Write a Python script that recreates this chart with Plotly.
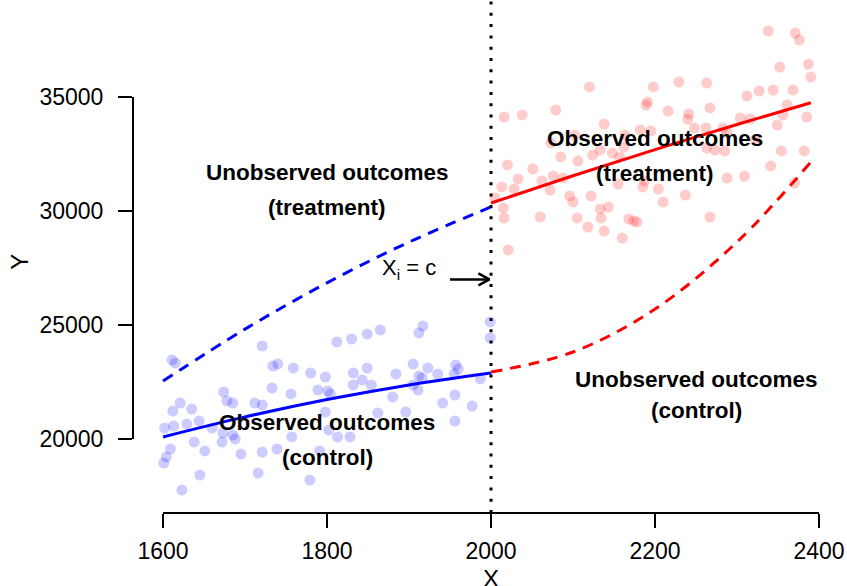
import plotly.graph_objects as go

# ---------------- data ----------------
control_x = [1611, 1615, 1721, 1674, 1621, 1612, 1635, 1678, 1685, 1712, 1721, 1602, 1613,
             1629, 1644, 1660, 1673, 1685, 1688, 1638, 1672, 1651, 1609, 1604, 1601, 1695,
             1721, 1645, 1716, 1623, 1734, 1740, 1733, 1759, 1780, 1798, 1789, 1801, 1804,
             1756, 1798, 1813, 1757, 1739, 1791, 1779, 1812, 1830, 1849, 1865, 1832, 1843,
             1849, 1854, 1832, 1862, 1828, 1912, 1917, 1999, 1999, 1905, 1884, 1912, 1916,
             1923, 1935, 1957, 1960, 1955, 1905, 1911, 1880, 1987, 1956, 1941, 1977, 1896,
             1956, 1802]
control_y = [23465, 23333, 24079, 22061, 21579, 21228, 21316, 21667, 21579, 21579, 21491, 20482,
             20570, 20658, 20789, 20482, 20263, 20175, 20000, 19868, 19868, 19474, 19561, 19211,
             18947, 19342, 19430, 18421, 18509, 17763, 23202, 23290, 22237, 23114, 22895, 22719,
             22149, 22105, 21974, 21974, 21184, 20088, 20088, 19561, 19474, 18202, 24254, 24386,
             24605, 24781, 22895, 22588, 23114, 22368, 22368, 21140, 20088, 24649, 24956, 25132,
             24430, 23289, 22851, 22763, 22675, 23114, 22851, 23246, 23070, 22851, 22368, 22149,
             21842, 22632, 21930, 21579, 21447, 21184, 20789, 20395]

treat_x = [2120, 2016, 2038, 2079, 2138, 2073, 2085, 2106, 2124, 2020, 2051, 2033, 2013, 2028,
           2062, 2076, 2088, 2072, 2005, 2015, 2016, 2060, 2096, 2100, 2122, 2105, 2118, 2133,
           2021, 2138, 2134, 2198, 2191, 2189, 2216, 2182, 2195, 2163, 2102, 2133, 2148, 2162,
           2157, 2185, 2187, 2204, 2210, 2143, 2168, 2174, 2178, 2160, 2155, 2229, 2263, 2241,
           2240, 2267, 2248, 2262, 2237, 2267, 2338, 2371, 2376, 2352, 2387, 2390, 2312, 2327,
           2344, 2368, 2361, 2356, 2385, 2304, 2316, 2349, 2283, 2288, 2273, 2285, 2263, 2322,
           2354, 2382, 2341, 2288, 2309, 2370]
treat_y = [35439, 34123, 34211, 34430, 33816, 32983, 32369, 32193, 32456, 32018, 31842, 31404,
           31053, 30965, 31316, 31535, 31447, 30921, 30570, 30132, 29693, 29737, 30658, 30395,
           30658, 29693, 29298, 30088, 28290, 29123, 29693, 35439, 34781, 34649, 34386, 33553,
           33509, 33333, 33333, 32675, 32544, 32807, 32369, 31053, 31316, 30965, 30395, 30175,
           29649, 29561, 29518, 28816, 31184, 35658, 35614, 34255, 34035, 34518, 33640, 33640,
           30702, 29737, 37895, 37807, 37500, 36316, 36447, 35877, 35044, 35263, 35307, 35307,
           34649, 34211, 34123, 34079, 34035, 33772, 33640, 33465, 32675, 32632, 32763, 33114,
           32632, 32632, 31974, 31447, 31535, 31228]

fit_ctrl_x = [1600, 1700, 1800, 1900, 2000]
fit_ctrl_obs_y = [20090, 20970, 21730, 22372, 22895]
fit_ctrl_cf_y = [22544, 24819, 26850, 28636, 30178]

fit_treat_x = [2000, 2100, 2200, 2300, 2390]
fit_treat_obs_y = [30350, 31545, 32694, 33795, 34746]
fit_treat_cf_y = [22939, 23816, 25702, 28640, 32149]

cutoff = 2000
arrow_tail_x = 1950
arrow_tip_x = 1998
arrow_y = 27000

x_ticks = [1600, 1800, 2000, 2200, 2400]
y_ticks = [20000, 25000, 30000, 35000]

# ---------------- layout constants ----------------
W, H = 847, 586
ML, MR, MT, MB = 133, 0, 0, 73
X_RANGE = [1563.4, 2434.1]
Y_RANGE = [16754, 39254]
FONT = "Liberation Sans, Arial, Helvetica, sans-serif"

px_per_x = (W - ML - MR) / (X_RANGE[1] - X_RANGE[0])
px_per_y = (H - MT - MB) / (Y_RANGE[1] - Y_RANGE[0])

fig = go.Figure()

fig.add_trace(go.Scatter(x=control_x, y=control_y, mode="markers",
                         marker=dict(size=11, color="rgba(0,0,255,0.2)", line=dict(width=0)),
                         showlegend=False, hoverinfo="skip"))
fig.add_trace(go.Scatter(x=treat_x, y=treat_y, mode="markers",
                         marker=dict(size=11, color="rgba(255,0,0,0.2)", line=dict(width=0)),
                         showlegend=False, hoverinfo="skip"))

fig.add_trace(go.Scatter(x=fit_ctrl_x, y=fit_ctrl_obs_y, mode="lines", line_shape="spline",
                         line=dict(color="#0000ff", width=3), showlegend=False, hoverinfo="skip"))
fig.add_trace(go.Scatter(x=fit_ctrl_x, y=fit_ctrl_cf_y, mode="lines", line_shape="spline",
                         line=dict(color="#0000ff", width=3, dash="11px,8px"),
                         showlegend=False, hoverinfo="skip"))
fig.add_trace(go.Scatter(x=fit_treat_x, y=fit_treat_obs_y, mode="lines", line_shape="spline",
                         line=dict(color="#ff0000", width=3), showlegend=False, hoverinfo="skip"))
fig.add_trace(go.Scatter(x=fit_treat_x, y=fit_treat_cf_y, mode="lines", line_shape="spline",
                         line=dict(color="#ff0000", width=3, dash="11px,8px"),
                         showlegend=False, hoverinfo="skip"))

# arrow (shaft + open head), derived from the arrow values
head_dx = 11 / px_per_x
head_dy = 6 / px_per_y
fig.add_trace(go.Scatter(
    x=[arrow_tail_x, arrow_tip_x, None, arrow_tip_x - head_dx, arrow_tip_x, arrow_tip_x - head_dx],
    y=[arrow_y, arrow_y, None, arrow_y + head_dy, arrow_y, arrow_y - head_dy],
    mode="lines", line=dict(color="black", width=2.5), showlegend=False, hoverinfo="skip"))

shapes = []
# cutoff dotted line
shapes.append(dict(type="line", xref="x", yref="paper", x0=cutoff, x1=cutoff, y0=0, y1=1,
                   line=dict(color="black", width=3, dash="3px,8.3px")))
# R-style partial axis lines
def xpaper(v):
    return (v - X_RANGE[0]) / (X_RANGE[1] - X_RANGE[0])
def ypaper(v):
    return (v - Y_RANGE[0]) / (Y_RANGE[1] - Y_RANGE[0])
shapes.append(dict(type="line", xref="paper", yref="paper", x0=xpaper(x_ticks[0]), x1=xpaper(x_ticks[-1]),
                   y0=0, y1=0, line=dict(color="black", width=2)))
shapes.append(dict(type="line", xref="paper", yref="paper", x0=0, x1=0,
                   y0=ypaper(y_ticks[0]), y1=ypaper(y_ticks[-1]), line=dict(color="black", width=2)))

annotations = []
bold = dict(family=FONT, size=22.5, color="black", weight="bold")
def label(text, x, y):
    annotations.append(dict(text=text, x=x, y=y, xref="x", yref="y", showarrow=False,
                            xanchor="center", yanchor="middle", font=bold))
label("Unobserved outcomes", 1800, 31667)
label("(treatment)", 1800, 30150)
label("Observed outcomes", 1800, 20702)
label("(control)", 1800, 19167)
label("Observed outcomes", 2200, 33180)
label("(treatment)", 2200, 31660)
label("Unobserved outcomes", 2250, 22600)
label("(control)", 2250, 21230)

annotations.append(dict(text="X<sub>i</sub> = c", x=1900, y=27450, xref="x", yref="y",
                        showarrow=False, xanchor="center", yanchor="middle",
                        font=dict(family=FONT, size=22, color="black")))
annotations.append(dict(text="X", x=cutoff, y=(H - MB - 563) / (H - MT - MB), xref="x", yref="paper",
                        showarrow=False, xanchor="center", yanchor="top",
                        font=dict(family=FONT, size=24, color="black")))
annotations.append(dict(text="Y", x=-(ML - 20) / (W - ML - MR), y=0.49, xref="paper", yref="paper",
                        showarrow=False, xanchor="center", yanchor="middle", textangle=-90,
                        font=dict(family=FONT, size=24, color="black")))

fig.update_layout(
    width=W, height=H,
    margin=dict(l=ML, r=MR, t=MT, b=MB, pad=0),
    plot_bgcolor="white", paper_bgcolor="white",
    font=dict(family=FONT, color="black"),
    shapes=shapes, annotations=annotations,
    xaxis=dict(range=X_RANGE, tickvals=x_ticks, ticktext=[str(v) for v in x_ticks],
               ticks="outside", ticklen=14, tickwidth=2, tickcolor="black",
               showline=False, showgrid=False, zeroline=False,
               tickfont=dict(family=FONT, size=23, color="black"), ticklabelstandoff=3),
    yaxis=dict(range=Y_RANGE, tickvals=y_ticks, ticktext=[str(v) for v in y_ticks],
               ticks="outside", ticklen=14, tickwidth=2, tickcolor="black",
               showline=False, showgrid=False, zeroline=False,
               tickfont=dict(family=FONT, size=23, color="black"), ticklabelstandoff=10),
)

fig.write_html("out.html")
